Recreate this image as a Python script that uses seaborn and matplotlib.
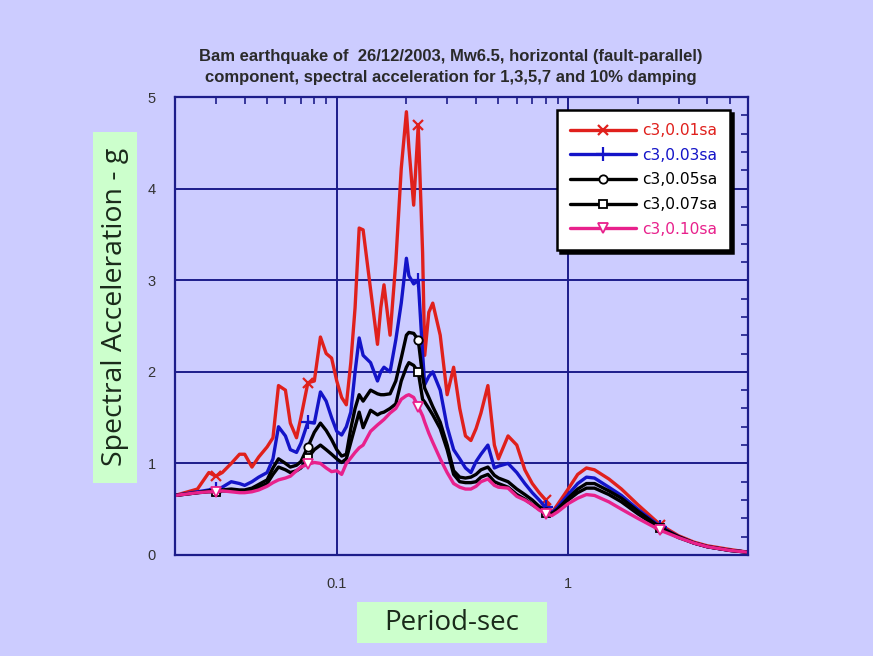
import numpy as np
import pandas as pd
import matplotlib
matplotlib.use("Agg")
import matplotlib.pyplot as plt
from matplotlib.patches import Rectangle
from matplotlib.ticker import FixedLocator, FuncFormatter, MultipleLocator, LogLocator
import seaborn as sns

# Periodos (s) e aceleracao espectral (g)
periodo = [0.02, 0.025, 0.028, 0.03, 0.032, 0.035, 0.038, 0.04, 0.043, 0.046,
           0.05, 0.053, 0.056, 0.06, 0.063, 0.067, 0.07, 0.075, 0.08, 0.085,
           0.09, 0.095, 0.1, 0.105, 0.11, 0.115, 0.12, 0.125, 0.13, 0.14,
           0.15, 0.155, 0.16, 0.17, 0.18, 0.19, 0.2, 0.205, 0.215, 0.225,
           0.235, 0.24, 0.25, 0.26, 0.28, 0.3, 0.32, 0.34, 0.36, 0.38,
           0.4, 0.42, 0.45, 0.48, 0.5, 0.55, 0.6, 0.65, 0.7, 0.75,
           0.8, 0.85, 0.9, 1.0, 1.1, 1.2, 1.3, 1.5, 1.7, 2.0,
           2.5, 3.0, 3.5, 4.0, 5.0, 6.0]

sa_001 = [0.65, 0.72, 0.90, 0.86, 0.90, 1.00, 1.10, 1.10, 0.96, 1.07,
          1.18, 1.28, 1.85, 1.80, 1.44, 1.28, 1.50, 1.88, 1.90, 2.38,
          2.20, 2.15, 1.90, 1.72, 1.64, 2.10, 2.70, 3.57, 3.55, 2.90,
          2.30, 2.70, 2.95, 2.40, 3.20, 4.22, 4.84, 4.45, 3.82, 4.69,
          3.30, 2.18, 2.65, 2.75, 2.40, 1.75, 2.05, 1.60, 1.30, 1.25,
          1.38, 1.55, 1.85, 1.20, 1.05, 1.30, 1.20, 0.93, 0.78, 0.68,
          0.60, 0.46, 0.55, 0.72, 0.88, 0.95, 0.93, 0.83, 0.72, 0.55,
          0.33, 0.21, 0.14, 0.10, 0.06, 0.03]

sa_003 = [0.65, 0.69, 0.71, 0.72, 0.74, 0.80, 0.78, 0.76, 0.80, 0.85,
          0.90, 1.05, 1.40, 1.30, 1.15, 1.12, 1.22, 1.45, 1.44, 1.78,
          1.68, 1.50, 1.35, 1.31, 1.40, 1.56, 2.00, 2.37, 2.18, 2.10,
          1.90, 2.00, 2.05, 2.00, 2.35, 2.75, 3.24, 3.05, 2.96, 3.00,
          2.20, 1.86, 1.95, 2.00, 1.80, 1.40, 1.15, 1.05, 0.95, 0.90,
          1.02, 1.10, 1.20, 0.95, 0.97, 1.00, 0.90, 0.78, 0.68, 0.60,
          0.52, 0.46, 0.52, 0.66, 0.78, 0.85, 0.84, 0.74, 0.65, 0.50,
          0.31, 0.20, 0.13, 0.09, 0.05, 0.03]

sa_005 = [0.65, 0.68, 0.70, 0.70, 0.71, 0.72, 0.71, 0.71, 0.73, 0.77,
          0.82, 0.95, 1.05, 1.00, 0.96, 0.98, 1.02, 1.18, 1.34, 1.44,
          1.36, 1.26, 1.15, 1.08, 1.10, 1.38, 1.60, 1.75, 1.68, 1.80,
          1.76, 1.75, 1.75, 1.76, 1.90, 2.15, 2.40, 2.43, 2.42, 2.35,
          1.95, 1.82, 1.72, 1.62, 1.45, 1.20, 0.92, 0.85, 0.84, 0.85,
          0.88, 0.93, 0.96, 0.87, 0.84, 0.80, 0.72, 0.66, 0.60, 0.53,
          0.47, 0.45, 0.50, 0.62, 0.72, 0.78, 0.78, 0.70, 0.62, 0.48,
          0.30, 0.20, 0.13, 0.09, 0.05, 0.03]

sa_007 = [0.65, 0.68, 0.69, 0.69, 0.70, 0.70, 0.69, 0.69, 0.71, 0.74,
          0.78, 0.88, 0.96, 0.93, 0.90, 0.92, 0.95, 1.06, 1.15, 1.20,
          1.15, 1.10, 1.05, 1.01, 1.05, 1.23, 1.40, 1.56, 1.39, 1.58,
          1.53, 1.55, 1.56, 1.60, 1.65, 1.90, 2.05, 2.10, 2.07, 2.00,
          1.70, 1.67, 1.60, 1.53, 1.38, 1.15, 0.88, 0.80, 0.79, 0.79,
          0.80, 0.85, 0.88, 0.80, 0.78, 0.74, 0.66, 0.61, 0.55, 0.50,
          0.46, 0.44, 0.49, 0.60, 0.68, 0.73, 0.73, 0.66, 0.58, 0.45,
          0.29, 0.19, 0.13, 0.09, 0.05, 0.03]

sa_010 = [0.65, 0.68, 0.69, 0.69, 0.70, 0.69, 0.68, 0.68, 0.69, 0.71,
          0.75, 0.79, 0.82, 0.84, 0.86, 0.92, 0.96, 0.99, 1.01, 1.00,
          0.95, 0.91, 0.92, 0.88, 1.00, 1.06, 1.12, 1.17, 1.20, 1.35,
          1.42, 1.45, 1.48, 1.55, 1.60, 1.70, 1.74, 1.75, 1.72, 1.62,
          1.52, 1.45, 1.33, 1.23, 1.05, 0.90, 0.78, 0.74, 0.72, 0.72,
          0.75, 0.80, 0.83, 0.76, 0.74, 0.73, 0.64, 0.60, 0.55, 0.49,
          0.45, 0.43, 0.47, 0.56, 0.62, 0.66, 0.65, 0.58, 0.50, 0.40,
          0.27, 0.19, 0.13, 0.09, 0.05, 0.03]

rotulos = ["c3,0.01sa", "c3,0.03sa", "c3,0.05sa", "c3,0.07sa", "c3,0.10sa"]
periodos_marcador = [0.03, 0.075, 0.225, 0.8, 2.5]

tabela = pd.DataFrame({"Periodo": periodo, rotulos[0]: sa_001, rotulos[1]: sa_003,
                       rotulos[2]: sa_005, rotulos[3]: sa_007, rotulos[4]: sa_010})
indices_marcador = [periodo.index(p) for p in periodos_marcador]

fundo = "#ccccff"
azul_grade = "#1c1c8a"
cores = {rotulos[0]: "#e0201c", rotulos[1]: "#1414c8", rotulos[2]: "black",
         rotulos[3]: "black", rotulos[4]: "#e8218c"}
estilos = {
    rotulos[0]: dict(marker="x", mfc="none", ms=7, mew=1.6),
    rotulos[1]: dict(marker="+", mfc="none", ms=10, mew=1.6),
    rotulos[2]: dict(marker="o", mfc="white", ms=6, mew=1.3),
    rotulos[3]: dict(marker="s", mfc="white", ms=6, mew=1.3),
    rotulos[4]: dict(marker="v", mfc="white", ms=7, mew=1.3),
}

sns.set_style("white")
plt.rcParams["font.family"] = ["Liberation Sans", "DejaVu Sans"]

fig = plt.figure(figsize=(8.73, 6.56), dpi=100, facecolor=fundo)
ax = fig.add_axes([0.2005, 0.154, 0.6565, 0.698])
ax.set_facecolor(fundo)

for rotulo in rotulos:
    sns.lineplot(data=tabela, x="Periodo", y=rotulo, ax=ax, label=rotulo,
                 linewidth=2.4, color=cores[rotulo], mec=cores[rotulo],
                 markevery=indices_marcador, **estilos[rotulo])

ax.set_xscale("log")
ax.set_xlim(0.02, 6)
ax.set_ylim(0, 5)

# Grade apenas nos ticks principais
ax.xaxis.set_major_locator(FixedLocator([0.1, 1]))
ax.xaxis.set_major_formatter(FuncFormatter(lambda v, p: "0.1" if v < 0.5 else "1"))
ax.xaxis.set_minor_locator(LogLocator(base=10, subs=np.arange(2, 10)))
ax.xaxis.set_minor_formatter(FuncFormatter(lambda v, p: ""))
ax.yaxis.set_major_locator(MultipleLocator(1))
ax.yaxis.set_minor_locator(MultipleLocator(0.2))
ax.grid(True, which="major", color=azul_grade, linewidth=1.4)
ax.tick_params(which="both", direction="in", top=True, right=True,
               colors=azul_grade, labelcolor="#333333", labelsize=10.5)
ax.tick_params(which="minor", length=5, width=1.2)
ax.tick_params(which="major", length=0)
ax.tick_params(axis="x", which="major", pad=16)
ax.tick_params(axis="y", which="major", pad=14)
for lado in ax.spines.values():
    lado.set_color(azul_grade)
    lado.set_linewidth(1.6)

ax.set_xlabel("")
ax.set_ylabel("")

# Caixas verdes dos titulos dos eixos
fig.add_artist(Rectangle((0.409, 0.0198), 0.2176, 0.0625, transform=fig.transFigure,
                         fc="#ccffcc", ec="none"))
fig.add_artist(Rectangle((0.1065, 0.2637), 0.0504, 0.535, transform=fig.transFigure,
                         fc="#ccffcc", ec="none"))
fig.text(0.5178, 0.051, "Period-sec", fontsize=20, family=["Open Sans", "DejaVu Sans"],
         color="#1a2a1a", ha="center", va="center")
fig.text(0.1317, 0.532, "Spectral Acceleration - g", fontsize=20.5, rotation=90,
         family=["Open Sans", "DejaVu Sans"], color="#1a2a1a", ha="center", va="center")

fig.text(0.516, 0.8986, "Bam earthquake of  26/12/2003, Mw6.5, horizontal (fault-parallel)\n"
         "component, spectral acceleration for 1,3,5,7 and 10% damping",
         fontsize=12, fontweight="bold", color="#2a2a2a", ha="center", va="center",
         linespacing=1.5)

leg = ax.legend(loc="upper right", bbox_to_anchor=(0.969, 0.972), borderaxespad=0,
                prop={"family": ["DejaVu Sans"], "size": 11.2},
                frameon=True, fancybox=False, edgecolor="black", facecolor="white",
                framealpha=1, shadow={"color": "black", "alpha": 1},
                handlelength=4.2, labelspacing=0.62, borderpad=0.85, handletextpad=0.4)
leg.get_frame().set_linewidth(1.8)
for texto, rotulo in zip(leg.get_texts(), rotulos):
    texto.set_color(cores[rotulo])

fig.savefig("out.png", dpi=100, facecolor=fundo)
